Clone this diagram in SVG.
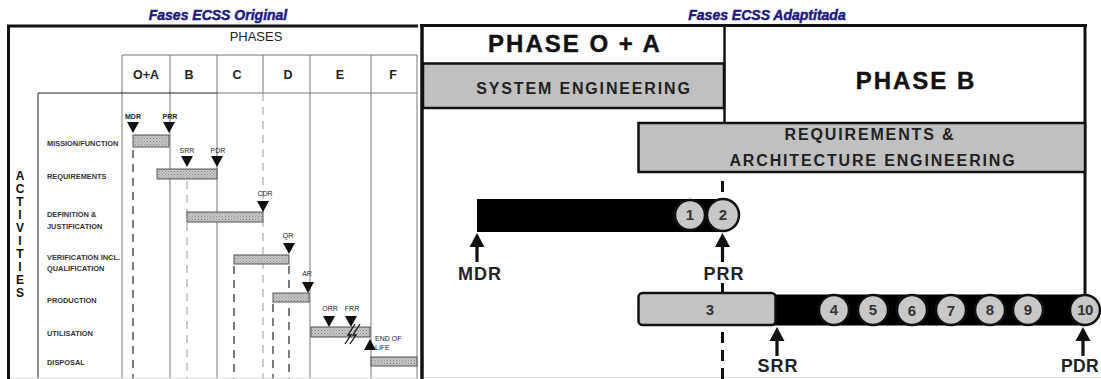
<svg xmlns="http://www.w3.org/2000/svg" xmlns:xlink="http://www.w3.org/1999/xlink" width="1101" height="379" viewBox="0 0 1101 379">
<style>
text{font-family:"Liberation Sans",Arial,sans-serif}
.title{font-size:14px;font-weight:bold;font-style:italic;fill:#1c1c82;stroke:#1c1c82;stroke-width:0.5}
.ph{font-size:12.5px;font-weight:bold;fill:#222}
.act{font-size:7.4px;font-weight:bold;fill:#333}
.ms{font-size:7px;fill:#222}
.acts{font-size:12px;font-weight:bold;fill:#111}
.col{stroke:#777;stroke-width:1}
.dk{stroke:#222;stroke-width:1.2;stroke-dasharray:8 6}
.lg{stroke:#999;stroke-width:1;stroke-dasharray:8 6}
.bar{fill:url(#stip);stroke:#555;stroke-width:1}
.big{font-size:24px;font-weight:bold;fill:#111;letter-spacing:2px;stroke:#111;stroke-width:0.4}
.sub{font-size:16px;font-weight:bold;fill:#222;letter-spacing:1.85px}
.gbox{fill:#c0c0c0;stroke:#111;stroke-width:2.5}
.circ{fill:#c8c8c8;stroke:#111;stroke-width:2.5}
.num{font-size:15px;font-weight:bold;fill:#333;text-anchor:middle}
.lab{font-size:18px;font-weight:bold;fill:#222;text-anchor:middle;letter-spacing:1px}
.dash2{stroke:#111;stroke-width:3}
</style>
<defs>
<pattern id="stip" width="3" height="3" patternUnits="userSpaceOnUse">
<rect width="3" height="3" fill="#c6c6c6"/>
<rect x="0" y="0" width="1" height="1" fill="#8a8a8a"/>
<rect x="1.5" y="1.5" width="1" height="1" fill="#9a9a9a"/>
</pattern>
<path id="dtri" d="M-6,0 L6,0 L0,11 Z" fill="#111"/>
<g id="uparrow"><path d="M0,0 L-7.5,14 L7.5,14 Z" fill="#111"/><rect x="-1.6" y="13" width="3.2" height="16" fill="#111"/></g>
</defs>
<rect width="1101" height="379" fill="#fff"/>

<!-- LEFT PANEL -->
<g id="left-panel">
<text class="title" x="218" y="20" text-anchor="middle">Fases ECSS Original</text>
<line x1="7" y1="26" x2="418" y2="26" stroke="#111" stroke-width="3"/>
<line x1="8.5" y1="25" x2="8.5" y2="379" stroke="#111" stroke-width="3"/>
<text x="256" y="41" text-anchor="middle" style="font-size:13px;fill:#222">PHASES</text>
</g>

<g id="phase-header">
<line class="col" x1="122" y1="55" x2="417" y2="55"/>
<line class="col" x1="217" y1="93" x2="417" y2="93" stroke="#aaa"/>
<line class="col" x1="122" y1="55" x2="122" y2="379"/>
<line class="col" x1="170" y1="55" x2="170" y2="379" stroke="#555"/>
<line class="col" x1="217" y1="55" x2="217" y2="379" stroke="#555"/>
<line class="col" x1="263" y1="55" x2="263" y2="93"/>
<line class="lg" x1="263" y1="93" x2="263" y2="379"/>
<line class="col" x1="310" y1="55" x2="310" y2="379" stroke="#555"/>
<line class="col" x1="371" y1="55" x2="371" y2="379" stroke="#555"/>
<line class="col" x1="417" y1="55" x2="417" y2="379" stroke="#999"/>
<text class="ph" x="146" y="79" text-anchor="middle">O+A</text>
<text class="ph" x="189" y="79" text-anchor="middle">B</text>
<text class="ph" x="237" y="79" text-anchor="middle">C</text>
<text class="ph" x="288" y="79" text-anchor="middle">D</text>
<text class="ph" x="340" y="79" text-anchor="middle">E</text>
<text class="ph" x="393" y="79" text-anchor="middle">F</text>
</g>

<g id="activities">
<line x1="38" y1="93" x2="217" y2="93" stroke="#222" stroke-width="1"/>
<line x1="38" y1="93" x2="38" y2="379" stroke="#222" stroke-width="1"/>
<text class="acts" x="20" y="180" text-anchor="middle">A</text>
<text class="acts" x="20" y="193" text-anchor="middle">C</text>
<text class="acts" x="20" y="206" text-anchor="middle">T</text>
<text class="acts" x="20" y="219" text-anchor="middle">I</text>
<text class="acts" x="20" y="232" text-anchor="middle">V</text>
<text class="acts" x="20" y="245" text-anchor="middle">I</text>
<text class="acts" x="20" y="258" text-anchor="middle">T</text>
<text class="acts" x="20" y="271" text-anchor="middle">I</text>
<text class="acts" x="20" y="284" text-anchor="middle">E</text>
<text class="acts" x="20" y="297" text-anchor="middle">S</text>
<text class="act" x="47" y="145.5">MISSION/FUNCTION</text>
<text class="act" x="47" y="178.5">REQUIREMENTS</text>
<text class="act" x="47" y="217">DEFINITION &amp;</text>
<text class="act" x="47" y="228.5">JUSTIFICATION</text>
<text class="act" x="47" y="259.5">VERIFICATION INCL.</text>
<text class="act" x="47" y="270.5">QUALIFICATION</text>
<text class="act" x="47" y="302.5">PRODUCTION</text>
<text class="act" x="47" y="335.5">UTILISATION</text>
<text class="act" x="47" y="364.5">DISPOSAL</text>
</g>

<g id="left-connectors">
<line class="dk" x1="133" y1="150" x2="133" y2="379"/>
<line class="lg" x1="187" y1="181" x2="187" y2="379"/>
<line class="dk" x1="234" y1="266" x2="234" y2="379"/>
<line class="dk" x1="289" y1="266" x2="289" y2="379"/>
<line class="dk" x1="273" y1="304" x2="273" y2="379"/>
</g>

<g id="left-bars">
<rect class="bar" x="133" y="135" width="36" height="12"/>
<rect class="bar" x="157" y="169" width="60" height="10"/>
<rect class="bar" x="187" y="212" width="76" height="10"/>
<rect class="bar" x="234" y="255" width="55" height="9"/>
<rect class="bar" x="273" y="293" width="36" height="9"/>
<rect class="bar" x="311" y="327" width="59" height="10"/>
<rect class="bar" x="371" y="357" width="46" height="9"/>
<g id="break" fill="none" stroke="#111" stroke-width="1.3">
<polyline points="345,344 351,335 348,335 355,324"/>
<polyline points="350,344 356,335 353,335 360,324"/>
</g>
</g>

<g id="left-milestones">
<use href="#dtri" x="133" y="122"/><text class="ms" x="133" y="119" text-anchor="middle" font-weight="bold">MDR</text>
<use href="#dtri" x="169" y="122"/><text class="ms" x="170" y="119" text-anchor="middle" font-weight="bold">PRR</text>
<use href="#dtri" x="187" y="156"/><text class="ms" x="187" y="153" text-anchor="middle">SRR</text>
<use href="#dtri" x="217" y="156"/><text class="ms" x="218" y="153" text-anchor="middle">PDR</text>
<use href="#dtri" x="263" y="201"/><text class="ms" x="265" y="196" text-anchor="middle">CDR</text>
<use href="#dtri" x="289" y="243"/><text class="ms" x="288" y="238" text-anchor="middle">QR</text>
<use href="#dtri" x="308" y="282"/><text class="ms" x="307" y="276" text-anchor="middle">AR</text>
<use href="#dtri" x="329" y="316"/><text class="ms" x="330" y="311" text-anchor="middle">ORR</text>
<use href="#dtri" x="351" y="316"/><text class="ms" x="352" y="311" text-anchor="middle">FRR</text>
<path d="M370,339 L364,350 L376,350 Z" fill="#111"/>
<text class="ms" x="375" y="341">END OF</text>
<text class="ms" x="375" y="350">LIFE</text>
</g>
<line x1="10" y1="378" x2="418" y2="378" stroke="#ddd" stroke-width="1"/>

<!-- RIGHT PANEL -->
<g id="right-panel">
<text class="title" x="767" y="20" text-anchor="middle">Fases ECSS Adaptitada</text>
<line x1="420" y1="25.5" x2="1087" y2="25.5" stroke="#111" stroke-width="3"/>
<line x1="422" y1="25" x2="422" y2="379" stroke="#111" stroke-width="3.5"/>
<line x1="1085" y1="25" x2="1085" y2="296" stroke="#111" stroke-width="3"/>
<line x1="724.5" y1="25" x2="724.5" y2="123" stroke="#111" stroke-width="2.5"/>
<line x1="424" y1="377.5" x2="1101" y2="377.5" stroke="#ddd" stroke-width="1"/>
</g>

<g id="phase-oa">
<text class="big" x="575" y="52" text-anchor="middle">PHASE O + A</text>
</g>
<g id="system-engineering">
<rect class="gbox" x="423" y="63.5" width="301" height="44.5"/>
<text class="sub" x="584" y="94" text-anchor="middle">SYSTEM ENGINEERING</text>
</g>
<g id="phase-b">
<text class="big" x="916" y="89" text-anchor="middle">PHASE B</text>
</g>
<g id="req-arch">
<rect class="gbox" x="638.5" y="123" width="446.5" height="49"/>
<text class="sub" x="870" y="140" text-anchor="middle">REQUIREMENTS &amp;</text>
<text class="sub" x="873" y="166" text-anchor="middle">ARCHITECTURE ENGINEERING</text>
</g>

<g id="connectors">
<line class="dash2" x1="722.5" y1="181" x2="722.5" y2="192"/>
<line class="dash2" x1="722.5" y1="283" x2="722.5" y2="292"/>
<line class="dash2" x1="722.5" y1="332" x2="722.5" y2="343"/>
<line class="dash2" x1="722.5" y1="350" x2="722.5" y2="361"/>
<line class="dash2" x1="722.5" y1="368" x2="722.5" y2="379"/>
<use href="#uparrow" x="477" y="233"/>
<use href="#uparrow" x="722.5" y="233"/>
<use href="#uparrow" x="777" y="327"/>
<use href="#uparrow" x="1083" y="327"/>
</g>

<g id="bar-oa">
<rect x="477" y="199" width="248" height="33" fill="#000"/>
</g>
<g id="bar-b">
<rect x="770" y="294.5" width="315" height="31" fill="#000"/>
</g>
<g id="task-3">
<rect x="638.5" y="293" width="137" height="32" rx="4" fill="#c4c4c4" stroke="#111" stroke-width="2.5"/>
<text class="num" x="710" y="315">3</text>
</g>

<g id="task-1"><circle class="circ" cx="690" cy="215" r="15"/><text class="num" x="690" y="220">1</text></g>
<g id="task-2"><circle class="circ" cx="723" cy="215" r="16"/><text class="num" x="723" y="220">2</text></g>
<g id="task-4"><circle class="circ" cx="834" cy="310" r="15"/><text class="num" x="834" y="315">4</text></g>
<g id="task-5"><circle class="circ" cx="873" cy="310" r="15"/><text class="num" x="873" y="315">5</text></g>
<g id="task-6"><circle class="circ" cx="912" cy="310" r="15"/><text class="num" x="912" y="316">6</text></g>
<g id="task-7"><circle class="circ" cx="951" cy="310" r="15"/><text class="num" x="951" y="316">7</text></g>
<g id="task-8"><circle class="circ" cx="990" cy="310" r="15"/><text class="num" x="990" y="315">8</text></g>
<g id="task-9"><circle class="circ" cx="1028" cy="310" r="15"/><text class="num" x="1028" y="315">9</text></g>
<g id="task-10"><circle class="circ" cx="1085" cy="310" r="15"/><text class="num" x="1085" y="315" style="letter-spacing:-0.5px">10</text></g>

<g id="milestones-right">
<text class="lab" x="480" y="280">MDR</text>
<text class="lab" x="724" y="280">PRR</text>
<text class="lab" x="778" y="372">SRR</text>
<text class="lab" x="1080" y="372" style="font-size:17.5px;letter-spacing:0.3px">PDR</text>
</g>
</svg>
